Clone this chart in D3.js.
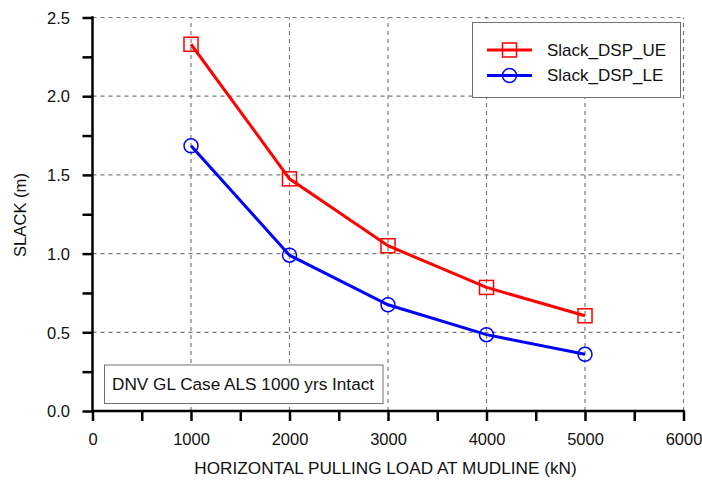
<!DOCTYPE html>
<html>
<head>
<meta charset="utf-8">
<script src="https://cdn.jsdelivr.net/npm/d3@7"></script>
<style>
  body { margin: 0; background: #fff; }
  text { font-family: "Liberation Sans", Arial, sans-serif; fill: #111; }
</style>
</head>
<body>
<svg id="chart" width="702" height="480"></svg>
<script>
// data
const loads = [1000, 2000, 3000, 4000, 5000];
const slackUE = [2.33, 1.475, 1.05, 0.785, 0.605];
const slackLE = [1.685, 0.99, 0.675, 0.485, 0.36];
const xTicks = [0, 1000, 2000, 3000, 4000, 5000, 6000];
const yTicks = [0.0, 0.5, 1.0, 1.5, 2.0, 2.5];
const seriesNames = ["Slack_DSP_UE", "Slack_DSP_LE"];

const svg = d3.select("#chart");

// plot area
let x = d3.scaleLinear().domain([0, 6000]).range([92.5, 683.5]);
let y = d3.scaleLinear().domain([0, 2.5]).range([411, 17.5]);

// ------
// dashed grid
const grid = svg.append("g").attr("stroke", "#7a7a7a").attr("stroke-width", 1.2)
  .attr("stroke-dasharray", "4,4");
grid.selectAll("line.gx").data(xTicks.slice(1)).enter().append("line")
  .attr("x1", d => x(d)).attr("x2", d => x(d))
  .attr("y1", y(0)).attr("y2", y(2.5));
grid.selectAll("line.gy").data(yTicks.slice(1)).enter().append("line")
  .attr("x1", x(0)).attr("x2", x(6000))
  .attr("y1", d => y(d)).attr("y2", d => y(d));

// ------
// axes
let xAxis = d3.axisBottom(x).tickValues(d3.range(0, 6001, 500))
  .tickSize(10).tickFormat(d => xTicks.includes(d) ? d : "");
let yAxis = d3.axisLeft(y).tickValues(d3.range(0, 2.51, 0.25))
  .tickSize(10).tickFormat(d => yTicks.some(t => Math.abs(t - d) < 1e-9) ? d3.format(".1f")(d) : "");

const gx = svg.append("g").attr("transform", "translate(0," + y(0) + ")").call(xAxis);
const gy = svg.append("g").attr("transform", "translate(" + x(0) + ",0)").call(yAxis);
[gx, gy].forEach(g => {
  g.select(".domain").remove();
  g.selectAll(".tick line").attr("stroke", "#000").attr("stroke-width", 2.5);
  g.selectAll(".tick text").attr("font-size", 16.5).attr("fill", "#111")
    .style("font-family", "'Liberation Sans', Arial, sans-serif");
});
gx.selectAll(".tick text").attr("dy", null).attr("y", 34);
gy.selectAll(".tick text").attr("x", -22.5).attr("dy", "0.35em");

svg.append("line").attr("x1", x(0) - 1).attr("x2", x(6000) + 1.2)
  .attr("y1", y(0)).attr("y2", y(0)).attr("stroke", "#000").attr("stroke-width", 2.5);
svg.append("line").attr("x1", x(0)).attr("x2", x(0))
  .attr("y1", y(0) + 1.2).attr("y2", y(2.5) - 1.2).attr("stroke", "#000").attr("stroke-width", 2.5);

// axis titles
svg.append("text").attr("x", 385.5).attr("y", 474).attr("text-anchor", "middle")
  .attr("font-size", 17.2).text("HORIZONTAL PULLING LOAD AT MUDLINE (kN)");
svg.append("text").attr("transform", "translate(25.5,215) rotate(-90)")
  .attr("text-anchor", "middle").attr("font-size", 16.6).text("SLACK (m)");

// ------
// series
const series = [
  { name: seriesNames[0], values: slackUE, color: "#ff0000", marker: "square" },
  { name: seriesNames[1], values: slackLE, color: "#0000ff", marker: "circle" }
];

let lineGen = d3.line().x((d, i) => x(loads[i])).y(d => y(d));

function drawMarker(g, type, cx, cy, color) {
  if (type === "square") {
    g.append("rect").attr("x", cx - 7).attr("y", cy - 7)
      .attr("width", 14).attr("height", 14)
      .attr("fill", "none").attr("stroke", color).attr("stroke-width", 1.5);
  } else {
    g.append("circle").attr("cx", cx).attr("cy", cy).attr("r", 7)
      .attr("fill", "none").attr("stroke", color).attr("stroke-width", 1.5);
  }
}

series.forEach(s => {
  svg.append("path").datum(s.values).attr("d", lineGen)
    .attr("fill", "none").attr("stroke", s.color).attr("stroke-width", 3);
  const mg = svg.append("g");
  s.values.forEach((v, i) => drawMarker(mg, s.marker, x(loads[i]), y(v), s.color));
});

// ------
// legend
const lg = svg.append("g");
lg.append("rect").attr("x", 472.5).attr("y", 22.5).attr("width", 208).attr("height", 75)
  .attr("fill", "#fff").attr("stroke", "#707070").attr("stroke-width", 1);
series.forEach((s, i) => {
  const ly = 50 + i * 25.5;
  lg.append("line").attr("x1", 487).attr("x2", 532).attr("y1", ly).attr("y2", ly)
    .attr("stroke", s.color).attr("stroke-width", 3);
  drawMarker(lg, s.marker, 509.5, ly, s.color);
  lg.append("text").attr("x", 547).attr("y", ly).attr("dy", "0.35em")
    .attr("font-size", 17).text(s.name);
});

// case annotation
svg.append("rect").attr("x", 104.5).attr("y", 365).attr("width", 278.5).attr("height", 38.5)
  .attr("fill", "#fff").attr("stroke", "#707070").attr("stroke-width", 1);
svg.append("text").attr("x", 112).attr("y", 390)
  .attr("font-size", 17.2).text("DNV GL Case ALS 1000 yrs Intact");
</script>
</body>
</html>
